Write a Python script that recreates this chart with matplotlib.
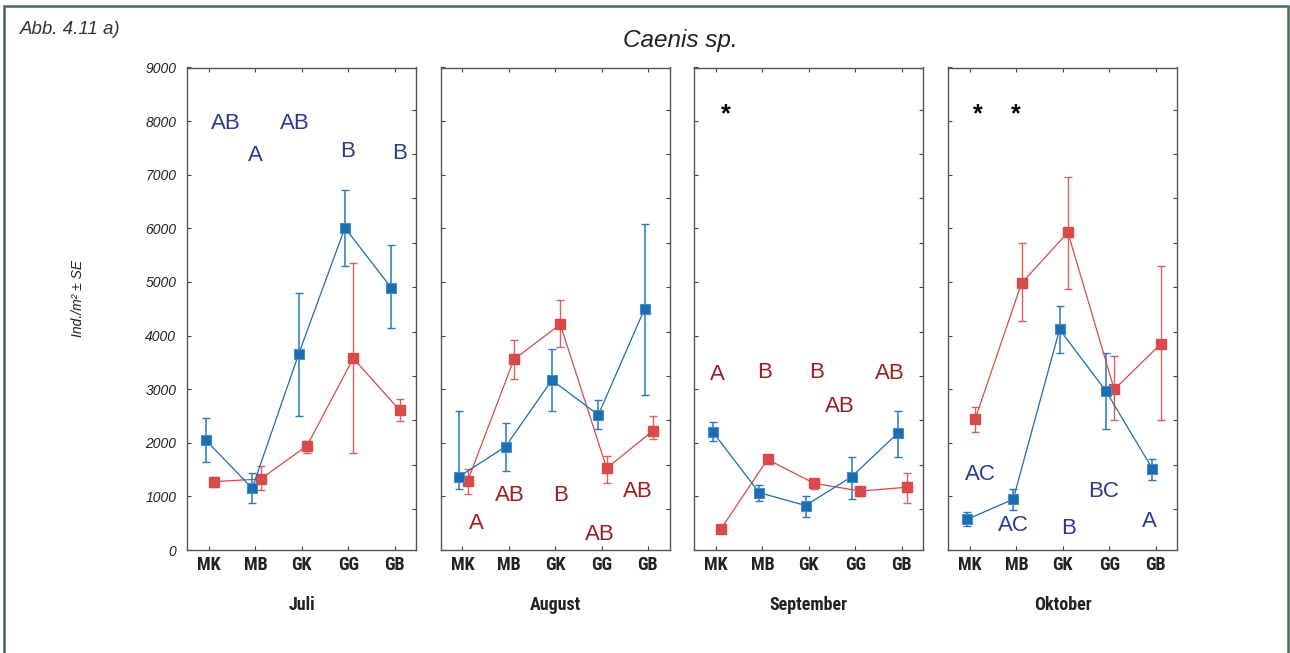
import matplotlib
matplotlib.use("Agg")
import matplotlib.pyplot as plt
from matplotlib import font_manager
from matplotlib.patches import Rectangle
import numpy as np

# --- data -----------------------------------------------------------------
sites = ["MK", "MB", "GK", "GG", "GB"]
months = ["Juli", "August", "September", "Oktober"]

# blue series: mean, lower and upper end of the SE bar (Ind./m²)
blue_mean = [
    [2050, 1150, 3650, 6010, 4890],
    [1370, 1930, 3170, 2520, 4500],
    [2200, 1070, 830, 1370, 2190],
    [570, 945, 4115, 2965, 1520],
]
blue_lo = [
    [1650, 870, 2500, 5300, 4135],
    [1130, 1475, 2590, 2250, 2890],
    [2030, 915, 610, 960, 1730],
    [450, 745, 3670, 2250, 1305],
]
blue_hi = [
    [2455, 1430, 4790, 6715, 5690],
    [2590, 2375, 3745, 2800, 6075],
    [2380, 1210, 1005, 1730, 2590],
    [705, 1130, 4560, 3670, 1690],
]

# red series
red_mean = [
    [1275, 1325, 1940, 3575, 2610],
    [1285, 3555, 4210, 1525, 2225],
    [400, 1690, 1245, 1100, 1170],
    [2445, 4975, 5925, 2995, 3840],
]
red_lo = [
    [1180, 1120, 1815, 1815, 2410],
    [1040, 3190, 3790, 1255, 2070],
    [370, 1670, 1130, 1005, 870],
    [2205, 4270, 4860, 2425, 2425],
]
red_hi = [
    [1370, 1565, 2035, 5345, 2810],
    [1505, 3915, 4665, 1760, 2500],
    [430, 1710, 1290, 1160, 1430],
    [2675, 5730, 6965, 3625, 5295],
]

# group letters: (x position in site units, y value, text)
letters = [
    [(0.36, 7950, "AB"), (0.99, 7350, "A"), (1.84, 7950, "AB"),
     (2.99, 7440, "B"), (4.10, 7400, "B")],
    [(0.30, 500, "A"), (1.03, 1010, "AB"), (2.11, 1010, "B"),
     (2.96, 280, "AB"), (3.79, 1090, "AB")],
    [(0.03, 3265, "A"), (1.04, 3305, "B"), (2.17, 3305, "B"),
     (2.66, 2675, "AB"), (3.74, 3285, "AB")],
    [(0.22, 1400, "AC"), (0.94, 465, "AC"), (2.12, 405, "B"),
     (2.87, 1090, "BC"), (3.86, 530, "A")],
]
letter_colors = ["#2b3a8f", "#9a1f22", "#9a1f22", "#2b3a8f"]
stars = [[], [], [0.20], [0.16, 0.98]]

yticks = [0, 1000, 2000, 3000, 4000, 5000, 6000, 7000, 8000, 9000]
right_ticks = [762, 1590, 2418, 3246, 4074, 4902, 5730, 6558, 7386, 8214]

# --- fonts ----------------------------------------------------------------
def first_available(names):
    for n in names:
        try:
            font_manager.findfont(font_manager.FontProperties(family=n),
                                  fallback_to_default=False)
            return n
        except Exception:
            continue
    return "DejaVu Sans"

narrow = first_available(["Liberation Sans Narrow", "DejaVu Sans Condensed",
                          "Roboto Condensed", "Open Sans Condensed",
                          "Liberation Sans"])
cond = [narrow, "DejaVu Sans"]
plain = ["Liberation Sans", "DejaVu Sans"]
cond_size = 13 if narrow != "Liberation Sans" else 11

# --- style ----------------------------------------------------------------
BLUE = "#1b6db0"
BLUE_BAR = "#2a78b8"
RED = "#d94a4a"
RED_BAR = "#e06060"

fig = plt.figure(figsize=(12.9, 6.53), dpi=100)
W, H = 1290, 653

# outer frame
fig.patches.append(Rectangle((4 / W, -0.01), (1288 - 4) / W, 1 - 6 / H + 0.01,
                             transform=fig.transFigure, fill=False,
                             edgecolor="#3d6b55", linewidth=1.8))

fig.text(20 / W, 1 - 30 / H, "Abb. 4.11 a)", family=plain, style="italic",
         fontsize=13.5, color="#333333", va="center", ha="left")
fig.text(680 / W, 1 - 40 / H, "Caenis sp.", family=plain, style="italic",
         fontsize=17.5, color="#222222", va="center", ha="center")
fig.text(78 / W, 1 - 298 / H, "Ind./m² ± SE", family=plain, style="italic",
         fontsize=10, color="#222222", va="center", ha="center", rotation=90)

lefts = [187.3, 440.7, 694.3, 948.3]
ax_w = 229
top_px, bot_px = 67.5, 550
x = np.arange(len(sites))

for i, left in enumerate(lefts):
    ax = fig.add_axes([left / W, 1 - bot_px / H, ax_w / W, (bot_px - top_px) / H])
    ax.set_xlim(-0.47, 4.47)
    ax.set_ylim(0, 9000)

    bm = np.array(blue_mean[i]); bl = np.array(blue_lo[i]); bh = np.array(blue_hi[i])
    rm = np.array(red_mean[i]); rl = np.array(red_lo[i]); rh = np.array(red_hi[i])

    xb = x - 0.07
    xr = x + 0.11
    ax.errorbar(xb, bm, yerr=[bm - bl, bh - bm], fmt="none", ecolor=BLUE_BAR,
                elinewidth=1.1, capsize=3, capthick=1.0, zorder=2)
    ax.errorbar(xr, rm, yerr=[rm - rl, rh - rm], fmt="none", ecolor=RED_BAR,
                elinewidth=1.0, capsize=3, capthick=1.0, zorder=2)
    ax.plot(xr, rm, color=RED, lw=0.9, marker="s", ms=7.5, mfc=RED, mec=RED, zorder=3)
    ax.plot(xb, bm, color=BLUE, lw=0.9, marker="s", ms=7.5, mfc=BLUE,
            mec="#4a8cc8", mew=0.8, zorder=4)

    for lx, ly, txt in letters[i]:
        ax.text(lx, ly, txt, color=letter_colors[i], fontsize=16, family=plain,
                ha="center", va="center", zorder=5)
    for sx in stars[i]:
        ax.text(sx, 8120, "*", color="black", fontsize=18, family=plain,
                fontweight="bold", ha="center", va="center", zorder=5)

    ax.set_xticks(x)
    ax.set_xticklabels(sites, family=cond, fontweight="bold", fontsize=cond_size,
                       color="#222222")
    ax.set_yticks(yticks)
    if i == 0:
        ax.set_yticklabels([str(v) for v in yticks], family=plain,
                           style="italic", fontsize=10, color="#222222")
    else:
        ax.set_yticklabels([])
    ax.tick_params(axis="both", direction="in", length=3, width=0.8,
                   color="#444444", top=True, right=False)
    ax.tick_params(axis="x", pad=4)
    ax.tick_params(axis="y", pad=8)
    for sp in ax.spines.values():
        sp.set_color("#555555")
        sp.set_linewidth(1.0)

    ax2 = ax.twinx()
    ax2.set_ylim(0, 9000)
    ax2.set_yticks(right_ticks)
    ax2.set_yticklabels([])
    ax2.tick_params(axis="y", direction="in", length=3, width=0.8, color="#444444")
    for sp in ax2.spines.values():
        sp.set_visible(False)

    fig.text((left + ax_w / 2) / W, 1 - 605 / H, months[i], family=cond,
             fontweight="bold", fontsize=cond_size, color="#222222",
             ha="center", va="center")

fig.savefig("out.png", dpi=100, facecolor="white")
